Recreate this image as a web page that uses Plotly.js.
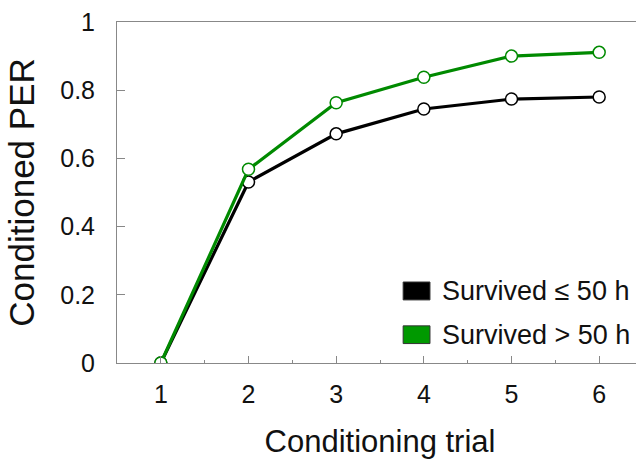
<!DOCTYPE html>
<html><head><meta charset="utf-8">
<script src="https://cdn.plot.ly/plotly-3.0.1.min.js"></script>
<style>html,body{margin:0;padding:0;overflow:hidden;background:#fff}</style>
</head><body><div id="chart"></div>
<script>
const trials = [1, 2, 3, 4, 5, 6];
const survivedShort = [0, 0.531, 0.672, 0.745, 0.774, 0.780];
const survivedLong = [0, 0.568, 0.763, 0.838, 0.900, 0.911];
const legendLabels = ["Survived \u2264 50 h", "Survived > 50 h"];
const yTicks = [0, 0.2, 0.4, 0.6, 0.8, 1];

const traces = [
  {x: trials, y: survivedShort, mode: 'lines+markers', name: legendLabels[0],
   line: {color: '#000000', width: 3.2},
   marker: {size: 12, color: '#ffffff', line: {color: '#000000', width: 1.5}}},
  {x: trials, y: survivedLong, mode: 'lines+markers', name: legendLabels[1],
   line: {color: '#008a00', width: 3.2},
   marker: {size: 12, color: '#ffffff', line: {color: '#008a00', width: 1.5}}}
];

const font = 'Liberation Sans, Arial, sans-serif';
const layout = {
  width: 660, height: 459,
  margin: {l: 117, r: 17, t: 22, b: 96},
  paper_bgcolor: '#fff', plot_bgcolor: '#fff',
  showlegend: false,
  font: {family: font, color: '#111'},
  xaxis: {
    range: [0.5, 6.5], tickvals: trials, ticks: 'inside', ticklen: 7, tickwidth: 1, tickcolor: '#888',
    showline: true, linecolor: '#888', linewidth: 1, mirror: true, showgrid: false, zeroline: false,
    tickfont: {size: 25, family: font, color: '#111'}, ticklabelstandoff: 9,
    minor: {dtick: 0.5, tick0: 0.5, ticks: 'inside', ticklen: 3, tickcolor: '#888', showgrid: false},
    title: {text: 'Conditioning trial', font: {size: 31, family: font, color: '#111'}, standoff: 26}
  },
  yaxis: {
    range: [0, 1], tickvals: yTicks, ticks: 'inside', ticklen: 8, tickwidth: 1, tickcolor: '#888',
    showline: true, linecolor: '#888', linewidth: 1, showgrid: false, zeroline: false,
    tickfont: {size: 25, family: font, color: '#111'}, ticklabelstandoff: 16,
    title: {text: 'Conditioned PER', font: {size: 35, family: font, color: '#111'}, standoff: 14}
  },
  shapes: [
    {type: 'rect', xref: 'paper', yref: 'paper', x0: 0.544, x1: 0.595, y0: 0.185, y1: 0.2375,
     fillcolor: '#000000', line: {color: '#333', width: 1}},
    {type: 'rect', xref: 'paper', yref: 'paper', x0: 0.544, x1: 0.595, y0: 0.057, y1: 0.109,
     fillcolor: '#009900', line: {color: '#333', width: 1}}
  ],
  annotations: [
    {xref: 'paper', yref: 'paper', x: 0.614, y: 0.211, xanchor: 'left', yanchor: 'middle', showarrow: false,
     text: legendLabels[0], font: {size: 27, family: font, color: '#111'}},
    {xref: 'paper', yref: 'paper', x: 0.614, y: 0.083, xanchor: 'left', yanchor: 'middle', showarrow: false,
     text: legendLabels[1], font: {size: 27, family: font, color: '#111'}}
  ]
};
Plotly.newPlot('chart', traces, layout, {displayModeBar: false, staticPlot: true});
</script></body></html>
